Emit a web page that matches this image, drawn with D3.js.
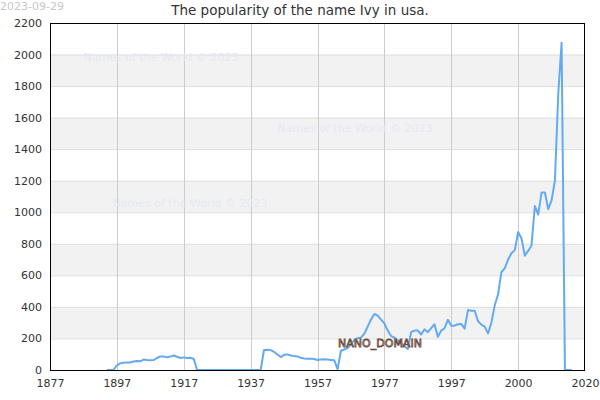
<!DOCTYPE html>
<html>
<head>
<meta charset="utf-8">
<script src="https://cdn.jsdelivr.net/npm/d3@7"></script>
<style>
html,body{margin:0;padding:0;background:#fff;}
svg{display:block;font-family:"DejaVu Sans",sans-serif;}
</style>
</head>
<body>
<svg id="chart" width="600" height="400"></svg>
<script>
// ---- data ----
const years = d3.range(1894, 2034);
const counts = [
  0, 0, 0, 30, 42, 46, 47, 48, 54, 57,            // 1894-1903
  55, 66, 63, 62, 63, 76, 86, 85, 80, 85,          // 1904-1913
  92, 84, 76, 80, 76, 78, 70, 0, 0, 0,             // 1914-1923
  0, 0, 0, 0, 0, 0, 0, 0, 0, 0,                    // 1924-1933
  0, 0, 0, 0, 0, 0, 0, 127, 128, 126,              // 1934-1943
  115, 98, 82, 96, 99, 92, 88, 86, 78, 73,         // 1944-1953
  72, 72, 70, 63, 67, 68, 66, 64, 62, 5,           // 1954-1963
  122, 130, 140, 160, 190, 203, 205, 230, 275, 320,// 1964-1973
  355, 345, 320, 295, 250, 215, 205, 190, 170, 150,// 1974-1983
  133, 240, 250, 250, 225, 258, 240, 265, 290, 210,// 1984-1993
  250, 265, 318, 281, 281, 290, 292, 262, 380, 376,// 1994-2003
  376, 310, 288, 275, 232, 300, 410, 480, 620, 645,// 2004-2013
  700, 740, 760, 875, 835, 725, 755, 790, 1040, 985,// 2014-2023
  1125, 1125, 1020, 1075, 1200, 1750, 2075, 0, 0, 0 // 2024-2033
];
const xTickValues = [1877, 1897, 1917, 1937, 1957, 1977, 1997, 2017, 2037];
const xTickLabels = ["1877", "1897", "1917", "1937", "1957", "1977", "1997", "2000", "2020"];
const yTickValues = d3.range(0, 2201, 200);
const titleText = "The popularity of the name Ivy in usa.";
const dateText = "2023-09-29";
const watermarkText = "Names of the World © 2023";
const watermarks = [[161, 57], [355, 128], [190, 203]];

// ---- layout ----
const svg = d3.select("#chart");
const m = {left: 50, right: 15, top: 23, bottom: 30};
const W = 600, H = 400;
const x = d3.scaleLinear().domain([1877, 2037]).range([m.left, W - m.right]);
const y = d3.scaleLinear().domain([0, 2200]).range([H - m.bottom, m.top]);

// bands
const bands = d3.range(200, 2200, 400);
svg.append("g").selectAll("rect").data(bands).join("rect")
  .attr("x", x(1877)).attr("width", x(2037) - x(1877))
  .attr("y", d => y(d + 200)).attr("height", d => y(d) - y(d + 200))
  .attr("fill", "#f2f2f2");

// horizontal grid
svg.append("g").selectAll("line").data(yTickValues.slice(1, -1)).join("line")
  .attr("x1", x(1877)).attr("x2", x(2037))
  .attr("y1", d => y(d) + 0.5).attr("y2", d => y(d) + 0.5)
  .attr("stroke", "#dedede").attr("stroke-width", 1);

// vertical grid
svg.append("g").selectAll("line").data(xTickValues.slice(1, -1)).join("line")
  .attr("x1", d => Math.round(x(d)) + 0.5).attr("x2", d => Math.round(x(d)) + 0.5)
  .attr("y1", y(2200)).attr("y2", y(0))
  .attr("stroke", "#cccccc").attr("stroke-width", 1);

// watermarks
svg.append("g").selectAll("text").data(watermarks).join("text")
  .attr("x", d => d[0]).attr("y", d => d[1]).attr("dy", "0.35em")
  .attr("text-anchor", "middle").attr("font-size", 11)
  .attr("fill", "#e6e8f2").text(watermarkText);

// line
const line = d3.line().x((d, i) => x(years[i])).y(d => y(d));
svg.append("path").datum(counts)
  .attr("d", line).attr("fill", "none")
  .attr("stroke", "#64aaf0").attr("stroke-width", 2)
  .attr("stroke-linejoin", "round");

// frame
svg.append("rect")
  .attr("x", x(1877) + 0.5).attr("y", y(2200) + 0.5)
  .attr("width", x(2037) - x(1877) - 1).attr("height", y(0) - y(2200))
  .attr("fill", "none").attr("stroke", "#000").attr("stroke-width", 1);

// axes
const yAxis = d3.axisLeft(y).tickValues(yTickValues).tickFormat(d3.format("d"))
  .tickSize(0).tickPadding(8);
const gy = svg.append("g").attr("transform", `translate(${m.left},0)`).call(yAxis);
gy.select(".domain").remove();
gy.selectAll("text").attr("font-size", 11).attr("fill", "#333").attr("font-family", "DejaVu Sans, sans-serif");

const xAxis = d3.axisBottom(x).tickValues(xTickValues)
  .tickFormat((d, i) => xTickLabels[i]).tickSize(0).tickPadding(9);
const gx = svg.append("g").attr("transform", `translate(0,${H - m.bottom})`).call(xAxis);
gx.select(".domain").remove();
gx.selectAll("text").attr("font-size", 11).attr("fill", "#333").attr("font-family", "DejaVu Sans, sans-serif");

// title
svg.append("text").attr("x", 300).attr("y", 15)
  .attr("text-anchor", "middle").attr("font-size", 13.5).attr("fill", "#333")
  .text(titleText);

// date
svg.append("text").attr("x", 0).attr("y", 10)
  .attr("font-size", 11).attr("fill", "#c8c8c8").text(dateText);

// NANO_DOMAIN label
svg.append("text").attr("x", 380).attr("y", 343).attr("dy", "0.35em")
  .attr("text-anchor", "middle").attr("font-size", 11)
  .attr("fill", "#e8dcd2").attr("stroke", "#6b4a3a").attr("stroke-width", 0.8)
  .text("NANO_DOMAIN");
</script>
</body>
</html>
